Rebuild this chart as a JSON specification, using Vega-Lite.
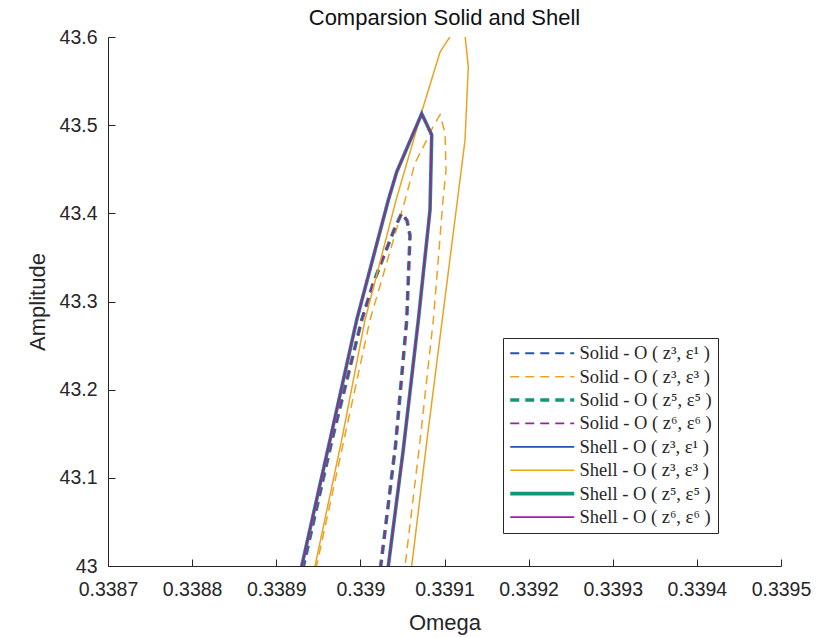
{
  "$schema": "https://vega.github.io/schema/vega-lite/v6.json",
  "autosize": {"type": "none"},
  "padding": {"left": 108, "top": 37, "right": 57, "bottom": 71},
  "width": 673,
  "height": 529,
  "background": "white",
  "title": {"text": "Comparsion Solid and Shell", "fontSize": 22, "fontWeight": "normal", "font": "Liberation Sans", "color": "#111111", "offset": -3},
  "data": {"values": [
    {"s": "Solid - O ( z³, ε¹ )", "i": 1, "w": 0.3389270, "a": 42.980},
    {"s": "Solid - O ( z³, ε¹ )", "i": 2, "w": 0.3389324, "a": 43.000},
    {"s": "Solid - O ( z³, ε¹ )", "i": 3, "w": 0.3389663, "a": 43.143},
    {"s": "Solid - O ( z³, ε¹ )", "i": 4, "w": 0.3390016, "a": 43.279},
    {"s": "Solid - O ( z³, ε¹ )", "i": 5, "w": 0.3390154, "a": 43.321},
    {"s": "Solid - O ( z³, ε¹ )", "i": 6, "w": 0.3390412, "a": 43.384},
    {"s": "Solid - O ( z³, ε¹ )", "i": 7, "w": 0.3390491, "a": 43.400},
    {"s": "Solid - O ( z³, ε¹ )", "i": 8, "w": 0.3390554, "a": 43.392},
    {"s": "Solid - O ( z³, ε¹ )", "i": 9, "w": 0.3390590, "a": 43.375},
    {"s": "Solid - O ( z³, ε¹ )", "i": 10, "w": 0.3390551, "a": 43.279},
    {"s": "Solid - O ( z³, ε¹ )", "i": 11, "w": 0.3390418, "a": 43.137},
    {"s": "Solid - O ( z³, ε¹ )", "i": 12, "w": 0.3390242, "a": 43.000},
    {"s": "Solid - O ( z³, ε¹ )", "i": 13, "w": 0.3390216, "a": 42.980},

    {"s": "Solid - O ( z³, ε³ )", "i": 1, "w": 0.3389425, "a": 42.980},
    {"s": "Solid - O ( z³, ε³ )", "i": 2, "w": 0.3389479, "a": 43.000},
    {"s": "Solid - O ( z³, ε³ )", "i": 3, "w": 0.3389805, "a": 43.143},
    {"s": "Solid - O ( z³, ε³ )", "i": 4, "w": 0.3390114, "a": 43.279},
    {"s": "Solid - O ( z³, ε³ )", "i": 5, "w": 0.3390531, "a": 43.415},
    {"s": "Solid - O ( z³, ε³ )", "i": 6, "w": 0.3390649, "a": 43.457},
    {"s": "Solid - O ( z³, ε³ )", "i": 7, "w": 0.3390788, "a": 43.483},
    {"s": "Solid - O ( z³, ε³ )", "i": 8, "w": 0.3390863, "a": 43.498},
    {"s": "Solid - O ( z³, ε³ )", "i": 9, "w": 0.3390947, "a": 43.512},
    {"s": "Solid - O ( z³, ε³ )", "i": 10, "w": 0.3391006, "a": 43.491},
    {"s": "Solid - O ( z³, ε³ )", "i": 11, "w": 0.3391018, "a": 43.449},
    {"s": "Solid - O ( z³, ε³ )", "i": 12, "w": 0.3390982, "a": 43.415},
    {"s": "Solid - O ( z³, ε³ )", "i": 13, "w": 0.3390923, "a": 43.344},
    {"s": "Solid - O ( z³, ε³ )", "i": 14, "w": 0.3390867, "a": 43.279},
    {"s": "Solid - O ( z³, ε³ )", "i": 15, "w": 0.3390703, "a": 43.137},
    {"s": "Solid - O ( z³, ε³ )", "i": 16, "w": 0.3390531, "a": 43.000},
    {"s": "Solid - O ( z³, ε³ )", "i": 17, "w": 0.3390507, "a": 42.980},

    {"s": "Solid - O ( z⁵, ε⁵ )", "i": 1, "w": 0.3389270, "a": 42.980},
    {"s": "Solid - O ( z⁵, ε⁵ )", "i": 2, "w": 0.3389324, "a": 43.000},
    {"s": "Solid - O ( z⁵, ε⁵ )", "i": 3, "w": 0.3389663, "a": 43.143},
    {"s": "Solid - O ( z⁵, ε⁵ )", "i": 4, "w": 0.3390016, "a": 43.279},
    {"s": "Solid - O ( z⁵, ε⁵ )", "i": 5, "w": 0.3390154, "a": 43.321},
    {"s": "Solid - O ( z⁵, ε⁵ )", "i": 6, "w": 0.3390412, "a": 43.384},
    {"s": "Solid - O ( z⁵, ε⁵ )", "i": 7, "w": 0.3390491, "a": 43.400},
    {"s": "Solid - O ( z⁵, ε⁵ )", "i": 8, "w": 0.3390554, "a": 43.392},
    {"s": "Solid - O ( z⁵, ε⁵ )", "i": 9, "w": 0.3390590, "a": 43.375},
    {"s": "Solid - O ( z⁵, ε⁵ )", "i": 10, "w": 0.3390551, "a": 43.279},
    {"s": "Solid - O ( z⁵, ε⁵ )", "i": 11, "w": 0.3390418, "a": 43.137},
    {"s": "Solid - O ( z⁵, ε⁵ )", "i": 12, "w": 0.3390242, "a": 43.000},
    {"s": "Solid - O ( z⁵, ε⁵ )", "i": 13, "w": 0.3390216, "a": 42.980},

    {"s": "Solid - O ( z⁶, ε⁶ )", "i": 1, "w": 0.3389270, "a": 42.980},
    {"s": "Solid - O ( z⁶, ε⁶ )", "i": 2, "w": 0.3389324, "a": 43.000},
    {"s": "Solid - O ( z⁶, ε⁶ )", "i": 3, "w": 0.3389663, "a": 43.143},
    {"s": "Solid - O ( z⁶, ε⁶ )", "i": 4, "w": 0.3390016, "a": 43.279},
    {"s": "Solid - O ( z⁶, ε⁶ )", "i": 5, "w": 0.3390154, "a": 43.321},
    {"s": "Solid - O ( z⁶, ε⁶ )", "i": 6, "w": 0.3390412, "a": 43.384},
    {"s": "Solid - O ( z⁶, ε⁶ )", "i": 7, "w": 0.3390491, "a": 43.400},
    {"s": "Solid - O ( z⁶, ε⁶ )", "i": 8, "w": 0.3390554, "a": 43.392},
    {"s": "Solid - O ( z⁶, ε⁶ )", "i": 9, "w": 0.3390590, "a": 43.375},
    {"s": "Solid - O ( z⁶, ε⁶ )", "i": 10, "w": 0.3390551, "a": 43.279},
    {"s": "Solid - O ( z⁶, ε⁶ )", "i": 11, "w": 0.3390418, "a": 43.137},
    {"s": "Solid - O ( z⁶, ε⁶ )", "i": 12, "w": 0.3390242, "a": 43.000},
    {"s": "Solid - O ( z⁶, ε⁶ )", "i": 13, "w": 0.3390216, "a": 42.980},

    {"s": "Shell - O ( z³, ε¹ )", "i": 1, "w": 0.3389253, "a": 42.980},
    {"s": "Shell - O ( z³, ε¹ )", "i": 2, "w": 0.3389303, "a": 43.000},
    {"s": "Shell - O ( z³, ε¹ )", "i": 3, "w": 0.3389639, "a": 43.143},
    {"s": "Shell - O ( z³, ε¹ )", "i": 4, "w": 0.3389956, "a": 43.279},
    {"s": "Shell - O ( z³, ε¹ )", "i": 5, "w": 0.3390332, "a": 43.415},
    {"s": "Shell - O ( z³, ε¹ )", "i": 6, "w": 0.3390432, "a": 43.447},
    {"s": "Shell - O ( z³, ε¹ )", "i": 7, "w": 0.3390729, "a": 43.513},
    {"s": "Shell - O ( z³, ε¹ )", "i": 8, "w": 0.3390848, "a": 43.489},
    {"s": "Shell - O ( z³, ε¹ )", "i": 9, "w": 0.3390828, "a": 43.404},
    {"s": "Shell - O ( z³, ε¹ )", "i": 10, "w": 0.3390689, "a": 43.279},
    {"s": "Shell - O ( z³, ε¹ )", "i": 11, "w": 0.3390510, "a": 43.132},
    {"s": "Shell - O ( z³, ε¹ )", "i": 12, "w": 0.3390332, "a": 43.000},
    {"s": "Shell - O ( z³, ε¹ )", "i": 13, "w": 0.3390305, "a": 42.980},

    {"s": "Shell - O ( z³, ε³ )", "i": 1, "w": 0.3389413, "a": 42.980},
    {"s": "Shell - O ( z³, ε³ )", "i": 2, "w": 0.3389461, "a": 43.000},
    {"s": "Shell - O ( z³, ε³ )", "i": 3, "w": 0.3389778, "a": 43.143},
    {"s": "Shell - O ( z³, ε³ )", "i": 4, "w": 0.3390055, "a": 43.279},
    {"s": "Shell - O ( z³, ε³ )", "i": 5, "w": 0.3390424, "a": 43.415},
    {"s": "Shell - O ( z³, ε³ )", "i": 6, "w": 0.3390729, "a": 43.515},
    {"s": "Shell - O ( z³, ε³ )", "i": 7, "w": 0.3390947, "a": 43.583},
    {"s": "Shell - O ( z³, ε³ )", "i": 8, "w": 0.3391077, "a": 43.602},
    {"s": "Shell - O ( z³, ε³ )", "i": 9, "w": 0.3391172, "a": 43.617},
    {"s": "Shell - O ( z³, ε³ )", "i": 10, "w": 0.3391244, "a": 43.602},
    {"s": "Shell - O ( z³, ε³ )", "i": 11, "w": 0.3391283, "a": 43.566},
    {"s": "Shell - O ( z³, ε³ )", "i": 12, "w": 0.3391244, "a": 43.483},
    {"s": "Shell - O ( z³, ε³ )", "i": 13, "w": 0.3390792, "a": 43.143},
    {"s": "Shell - O ( z³, ε³ )", "i": 14, "w": 0.3390610, "a": 43.000},
    {"s": "Shell - O ( z³, ε³ )", "i": 15, "w": 0.3390584, "a": 42.980},

    {"s": "Shell - O ( z⁵, ε⁵ )", "i": 1, "w": 0.3389253, "a": 42.980},
    {"s": "Shell - O ( z⁵, ε⁵ )", "i": 2, "w": 0.3389303, "a": 43.000},
    {"s": "Shell - O ( z⁵, ε⁵ )", "i": 3, "w": 0.3389639, "a": 43.143},
    {"s": "Shell - O ( z⁵, ε⁵ )", "i": 4, "w": 0.3389956, "a": 43.279},
    {"s": "Shell - O ( z⁵, ε⁵ )", "i": 5, "w": 0.3390332, "a": 43.415},
    {"s": "Shell - O ( z⁵, ε⁵ )", "i": 6, "w": 0.3390432, "a": 43.447},
    {"s": "Shell - O ( z⁵, ε⁵ )", "i": 7, "w": 0.3390729, "a": 43.513},
    {"s": "Shell - O ( z⁵, ε⁵ )", "i": 8, "w": 0.3390848, "a": 43.489},
    {"s": "Shell - O ( z⁵, ε⁵ )", "i": 9, "w": 0.3390828, "a": 43.404},
    {"s": "Shell - O ( z⁵, ε⁵ )", "i": 10, "w": 0.3390689, "a": 43.279},
    {"s": "Shell - O ( z⁵, ε⁵ )", "i": 11, "w": 0.3390510, "a": 43.132},
    {"s": "Shell - O ( z⁵, ε⁵ )", "i": 12, "w": 0.3390332, "a": 43.000},
    {"s": "Shell - O ( z⁵, ε⁵ )", "i": 13, "w": 0.3390305, "a": 42.980},

    {"s": "Shell - O ( z⁶, ε⁶ )", "i": 1, "w": 0.3389253, "a": 42.980},
    {"s": "Shell - O ( z⁶, ε⁶ )", "i": 2, "w": 0.3389303, "a": 43.000},
    {"s": "Shell - O ( z⁶, ε⁶ )", "i": 3, "w": 0.3389639, "a": 43.143},
    {"s": "Shell - O ( z⁶, ε⁶ )", "i": 4, "w": 0.3389956, "a": 43.279},
    {"s": "Shell - O ( z⁶, ε⁶ )", "i": 5, "w": 0.3390332, "a": 43.415},
    {"s": "Shell - O ( z⁶, ε⁶ )", "i": 6, "w": 0.3390432, "a": 43.447},
    {"s": "Shell - O ( z⁶, ε⁶ )", "i": 7, "w": 0.3390729, "a": 43.513},
    {"s": "Shell - O ( z⁶, ε⁶ )", "i": 8, "w": 0.3390848, "a": 43.489},
    {"s": "Shell - O ( z⁶, ε⁶ )", "i": 9, "w": 0.3390828, "a": 43.404},
    {"s": "Shell - O ( z⁶, ε⁶ )", "i": 10, "w": 0.3390689, "a": 43.279},
    {"s": "Shell - O ( z⁶, ε⁶ )", "i": 11, "w": 0.3390510, "a": 43.132},
    {"s": "Shell - O ( z⁶, ε⁶ )", "i": 12, "w": 0.3390332, "a": 43.000},
    {"s": "Shell - O ( z⁶, ε⁶ )", "i": 13, "w": 0.3390305, "a": 42.980}
  ]},
  "mark": {"type": "line", "clip": true, "strokeJoin": "miter"},
  "encoding": {
    "x": {"field": "w", "type": "quantitative",
      "scale": {"domain": [0.3387, 0.3395], "zero": false, "nice": false},
      "axis": {"values": [0.3387, 0.3388, 0.3389, 0.339, 0.3391, 0.3392, 0.3393, 0.3394, 0.3395], "format": ".4~f", "title": "Omega", "titlePadding": 14, "labelPadding": 21, "labelOverlap": false, "labelFlush": false}},
    "y": {"field": "a", "type": "quantitative",
      "scale": {"domain": [43, 43.6], "zero": false, "nice": false},
      "axis": {"values": [43, 43.1, 43.2, 43.3, 43.4, 43.5, 43.6], "format": ".1~f", "title": "Amplitude", "titlePadding": 10, "labelPadding": 18, "labelOverlap": false, "labelFlush": false}},
    "order": {"field": "i", "type": "quantitative"},
    "color": {"field": "s", "type": "ordinal",
      "scale": {"type": "ordinal", "domain": ["Solid - O ( z³, ε¹ )", "Solid - O ( z³, ε³ )", "Solid - O ( z⁵, ε⁵ )", "Solid - O ( z⁶, ε⁶ )", "Shell - O ( z³, ε¹ )", "Shell - O ( z³, ε³ )", "Shell - O ( z⁵, ε⁵ )", "Shell - O ( z⁶, ε⁶ )"],
        "range": ["#2B50B5", "#EDA21F", "#12967A", "#A020A0", "#2B50B5", "#EDA21F", "#12967A", "#A020A0"]},
      "legend": {"title": null}},
    "strokeDash": {"field": "s", "type": "ordinal",
      "scale": {"type": "ordinal", "domain": ["Solid - O ( z³, ε¹ )", "Solid - O ( z³, ε³ )", "Solid - O ( z⁵, ε⁵ )", "Solid - O ( z⁶, ε⁶ )", "Shell - O ( z³, ε¹ )", "Shell - O ( z³, ε³ )", "Shell - O ( z⁵, ε⁵ )", "Shell - O ( z⁶, ε⁶ )"],
        "range": [[9, 6], [9, 6], [9, 6], [9, 6], [1, 0], [1, 0], [1, 0], [1, 0]]},
      "legend": {"title": null}},
    "strokeWidth": {"field": "s", "type": "ordinal",
      "scale": {"type": "ordinal", "domain": ["Solid - O ( z³, ε¹ )", "Solid - O ( z³, ε³ )", "Solid - O ( z⁵, ε⁵ )", "Solid - O ( z⁶, ε⁶ )", "Shell - O ( z³, ε¹ )", "Shell - O ( z³, ε³ )", "Shell - O ( z⁵, ε⁵ )", "Shell - O ( z⁶, ε⁶ )"],
        "range": [2, 1.5, 3.6, 1.8, 1.8, 1.5, 3.6, 1.8]},
      "legend": {"title": null}}
  },
  "config": {
    "font": "Liberation Sans",
    "view": {"stroke": null},
    "axis": {"grid": false, "domainColor": "#262626", "tickColor": "#262626", "labelColor": "#262626", "titleColor": "#262626",
      "labelFontSize": 19.5, "titleFontSize": 22, "titleFontWeight": "normal", "tickSize": -7, "labelFont": "Liberation Sans", "titleFont": "Liberation Sans", "domainWidth": 1},
    "legend": {"orient": "none", "legendX": 395, "legendY": 301, "strokeColor": "#262626", "fillColor": "white", "padding": 6,
      "labelFont": "Liberation Serif", "labelFontSize": 18.5, "labelColor": "#262626", "symbolType": "M-1.6,0H11.2", "symbolSize": 100, "labelLimit": 0, "rowPadding": 4.4, "labelOffset": 52}
  }
}
